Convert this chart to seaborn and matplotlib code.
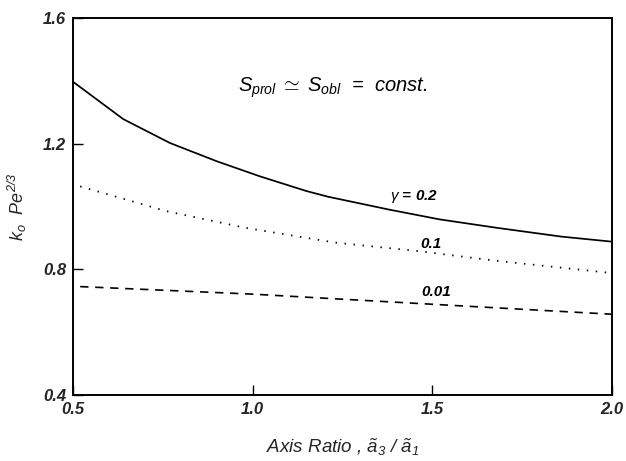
import numpy as np
import pandas as pd
import matplotlib
matplotlib.use("Agg")
import matplotlib.pyplot as plt
import seaborn as sns

# Data
x_g02 = [0.50, 0.58, 0.64, 0.77, 0.90, 1.02, 1.15, 1.21, 1.38, 1.52, 1.68, 1.86, 2.00]
y_g02 = [1.397, 1.329, 1.278, 1.202, 1.144, 1.096, 1.049, 1.031, 0.990, 0.959, 0.932, 0.904, 0.888]
x_g01 = [0.52, 0.76, 0.98, 1.23, 1.46, 1.68, 2.00]
y_g01 = [1.064, 0.985, 0.932, 0.885, 0.858, 0.827, 0.788]
x_g001 = [0.52, 1.00, 1.17, 1.59, 2.00]
y_g001 = [0.745, 0.721, 0.710, 0.683, 0.657]

labels = [r"$\gamma$ = 0.2", "0.1", "0.01"]
label_pos_x = [1.45, 1.495, 1.51]
label_pos_y = [1.032, 0.879, 0.727]

xticks = [0.5, 1.0, 1.5, 2.0]
yticks = [0.4, 0.8, 1.2, 1.6]

sns.set_theme(style="ticks")
plt.rcParams['font.family'] = ['Liberation Sans', 'DejaVu Sans']
plt.rcParams['mathtext.fontset'] = 'custom'
plt.rcParams['mathtext.it'] = 'Liberation Sans:italic'
plt.rcParams['mathtext.rm'] = 'Liberation Sans:italic'
plt.rcParams['mathtext.bf'] = 'Liberation Sans:bold:italic'

fig = plt.figure(figsize=(6.26, 4.61), dpi=100)
ax = fig.add_axes([0.1166, 0.1432, 0.8610, 0.8178])

df1 = pd.DataFrame({"x": x_g02, "y": y_g02})
df2 = pd.DataFrame({"x": x_g01, "y": y_g01})
df3 = pd.DataFrame({"x": x_g001, "y": y_g001})

sns.lineplot(data=df1, x="x", y="y", ax=ax, color="black", lw=1.25)
sns.lineplot(data=df2, x="x", y="y", ax=ax, color="black", lw=1.3,
             linestyle=(0, (0.8, 4.2)))
sns.lineplot(data=df3, x="x", y="y", ax=ax, color="black", lw=1.2,
             linestyle=(0, (5, 4)))

for t, lx, ly in zip(labels, label_pos_x, label_pos_y):
    ax.text(lx, ly, t, ha="center", va="center", fontsize=11,
            fontstyle="italic", fontweight="bold", color="black")

ax.text(0.96, 1.378, r"$S_{prol}\;\simeq\;S_{obl}$  =  const.", ha="left", va="center",
        fontsize=14.5, fontstyle="italic", color="black")

ax.set_xlim(0.5, 2.0)
ax.set_ylim(0.4, 1.6)
ax.set_xticks(xticks)
ax.set_yticks(yticks)
ax.set_xticklabels([f"{v:.1f}" for v in xticks], fontstyle="italic", fontweight="bold", fontsize=12)
ax.set_yticklabels([f"{v:.1f}" for v in yticks], fontstyle="italic", fontweight="bold", fontsize=12)
ax.tick_params(direction="in", length=7, width=1, color="black", pad=5)
for s in ax.spines.values():
    s.set_visible(True)
    s.set_color("black")
    s.set_linewidth(1.4)

ax.set_xlabel(r"Axis Ratio , $\tilde{a}_3$ / $\tilde{a}_1$", fontsize=13.5,
              fontstyle="italic", labelpad=14)
ax.set_ylabel(r"$k_o$  $Pe^{2/3}$", fontsize=13, fontstyle="italic", labelpad=10)

fig.savefig("out.png", dpi=100)
